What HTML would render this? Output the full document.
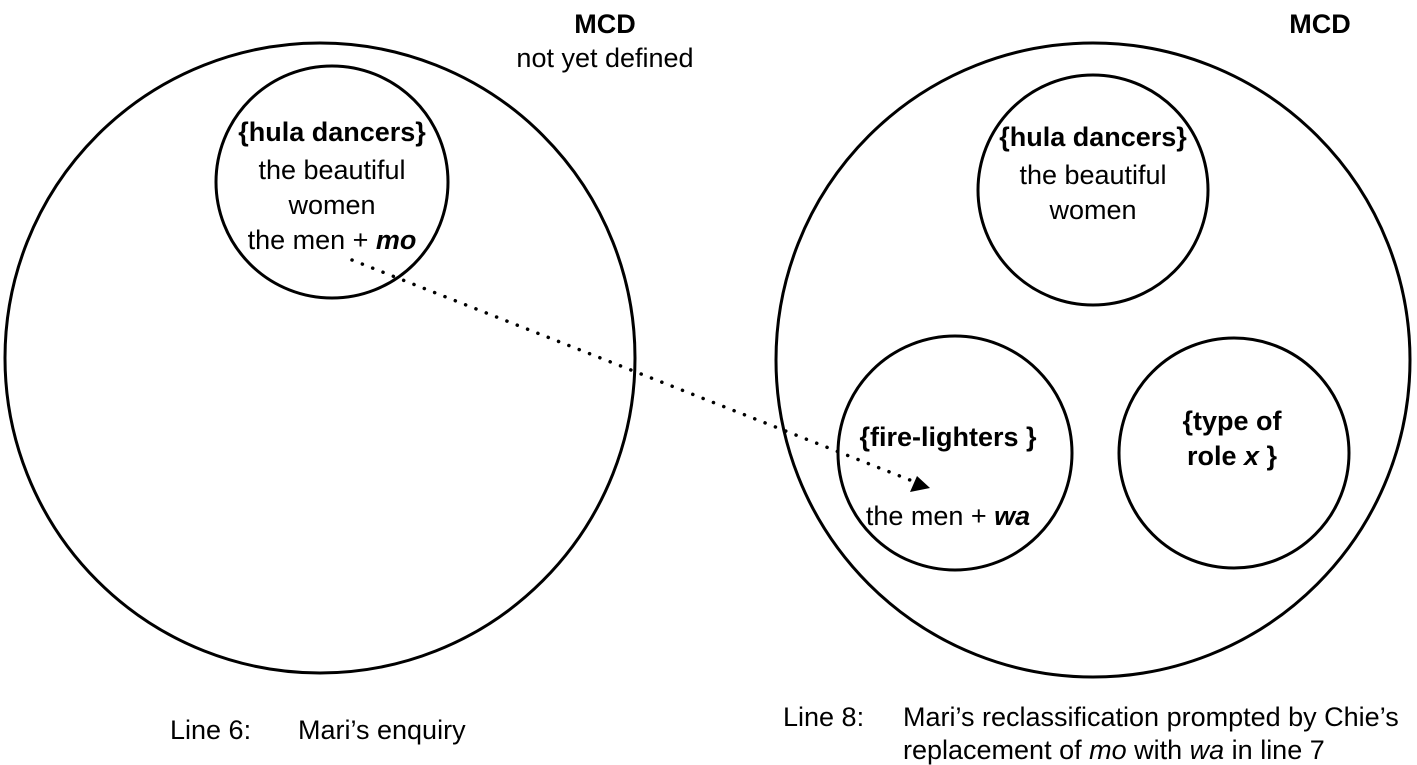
<!DOCTYPE html>
<html><head><meta charset="utf-8"><style>
html,body{margin:0;padding:0;background:#fff;}
svg{display:block;}
text{font-family:"Liberation Sans",Arial,sans-serif;fill:#000;}
.b{font-weight:bold;}
</style></head><body>
<svg width="1417" height="765" viewBox="0 0 1417 765" xmlns="http://www.w3.org/2000/svg">
<g fill="none" stroke="#000" stroke-width="3">
<circle cx="320" cy="358" r="315"/>
<circle cx="1093" cy="360" r="317"/>
<circle cx="332" cy="182" r="116"/>
<circle cx="1093" cy="190" r="115"/>
<ellipse cx="955" cy="453" rx="117" ry="117"/>
<ellipse cx="1234" cy="453" rx="115" ry="115"/>
</g>
<line x1="352" y1="260" x2="915" y2="482" stroke="#000" stroke-width="3.5" stroke-dasharray="0.1 11" stroke-linecap="round"/>
<polygon points="930,488 910,492 917,476" fill="#000"/>
<g font-size="27" text-anchor="middle">
<text x="605" y="33" class="b">MCD</text>
<text x="605" y="67">not yet defined</text>
<text x="1320" y="33" class="b">MCD</text>
<text x="332" y="141" class="b">{hula dancers}</text>
<text x="332" y="179">the beautiful</text>
<text x="332" y="214">women</text>
<text x="332" y="249">the men + <tspan font-weight="bold" font-style="italic">mo</tspan></text>
<text x="1093" y="146" class="b">{hula dancers}</text>
<text x="1093" y="184">the beautiful</text>
<text x="1093" y="219">women</text>
<text x="948" y="446" class="b">{fire-lighters }</text>
<text x="948" y="525">the men + <tspan font-weight="bold" font-style="italic">wa</tspan></text>
<text x="1232" y="430" class="b">{type of</text>
<text x="1232" y="465" class="b">role <tspan font-style="italic">x</tspan> }</text>
</g>
<g font-size="27">
<text x="170" y="739">Line 6:</text>
<text x="298" y="739">Mari’s enquiry</text>
<text x="783" y="726">Line 8:</text>
<text x="903" y="726">Mari’s reclassification prompted by Chie’s</text>
<text x="903" y="759">replacement of <tspan font-style="italic">mo</tspan> with <tspan font-style="italic">wa</tspan> in line 7</text>
</g>
</svg>
</body></html>
